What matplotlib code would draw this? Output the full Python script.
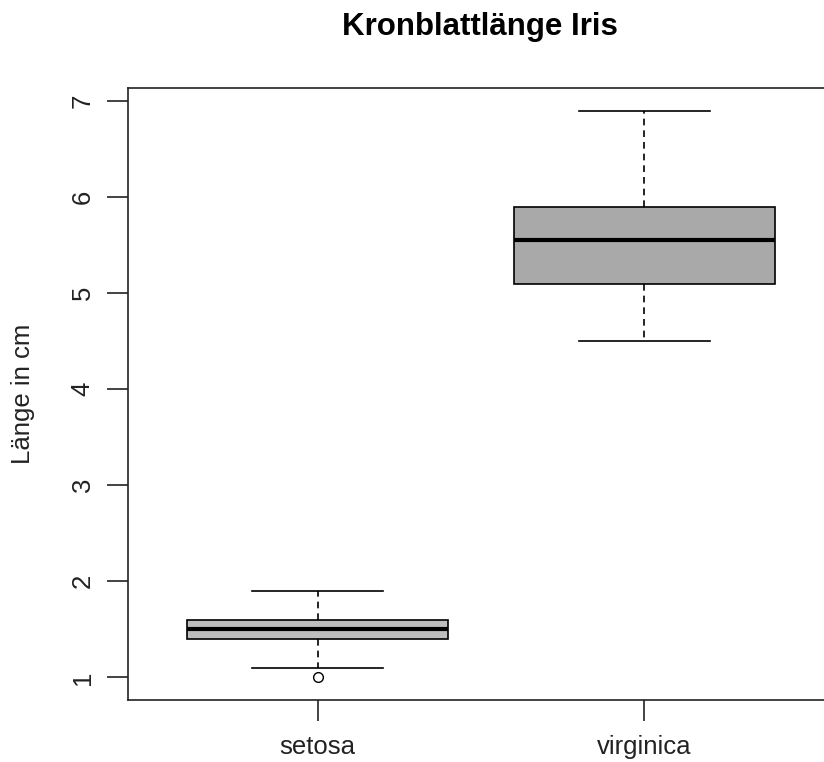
import matplotlib
matplotlib.use("Agg")
import matplotlib.pyplot as plt

plt.rcParams['font.family'] = ['Liberation Sans', 'DejaVu Sans']

# Five-number summaries of petal length per species
species = ["setosa", "virginica"]
whisker_low = [1.1, 4.5]
q1 = [1.4, 5.1]
median = [1.5, 5.55]
q3 = [1.6, 5.9]
whisker_high = [1.9, 6.9]
outliers = [[1.0], []]
fills = ["#bebebe", "#a9a9a9"]
y_ticks = [1, 2, 3, 4, 5, 6, 7]

fig = plt.figure(figsize=(8.24, 7.62), dpi=100)
ax = fig.add_axes([128 / 824, 62 / 762, 706 / 824, 612 / 762])

stats = []
for i, name in enumerate(species):
    stats.append(dict(label=name, whislo=whisker_low[i], q1=q1[i], med=median[i],
                      q3=q3[i], whishi=whisker_high[i], fliers=outliers[i]))

positions = list(range(1, len(species) + 1))
bp = ax.bxp(stats, positions=positions, widths=0.8, patch_artist=True,
            showfliers=True,
            boxprops=dict(edgecolor="black", linewidth=1.2),
            medianprops=dict(color="black", linewidth=3.0, solid_capstyle="butt"),
            whiskerprops=dict(color="black", linewidth=1.2, linestyle=(0, (4, 3))),
            capprops=dict(color="black", linewidth=1.2),
            capwidths=0.4,
            flierprops=dict(marker="o", markerfacecolor="white", markeredgecolor="black",
                            markersize=7, markeredgewidth=1.0))
for patch, c in zip(bp["boxes"], fills):
    patch.set_facecolor(c)

ax.set_xlim(0.42, 2.58)
ax.set_ylim(0.764, 7.136)
ax.set_yticks(y_ticks)
ax.set_yticklabels([str(t) for t in y_ticks], rotation=90, va="center")
ax.set_xticks(positions)
ax.set_xticklabels(species)

for side in ["left", "bottom", "top", "right"]:
    ax.spines[side].set_color("#222222")
    ax.spines[side].set_linewidth(1.2)
ax.tick_params(axis="both", length=15, width=1.2, color="#222222",
               labelsize=18.5, labelcolor="#222222")
ax.tick_params(axis="y", pad=9)
ax.tick_params(axis="x", pad=10.5)

fig.text(23 / 824, 1 - 394 / 762, "Länge in cm", rotation=90, ha="center", va="center",
         fontsize=18.5, color="#222222")
fig.text(480 / 824, 1 - 27 / 762, "Kronblattlänge Iris", ha="center", va="center",
         fontsize=22.5, fontweight="bold")

fig.savefig("out.png", dpi=100)
